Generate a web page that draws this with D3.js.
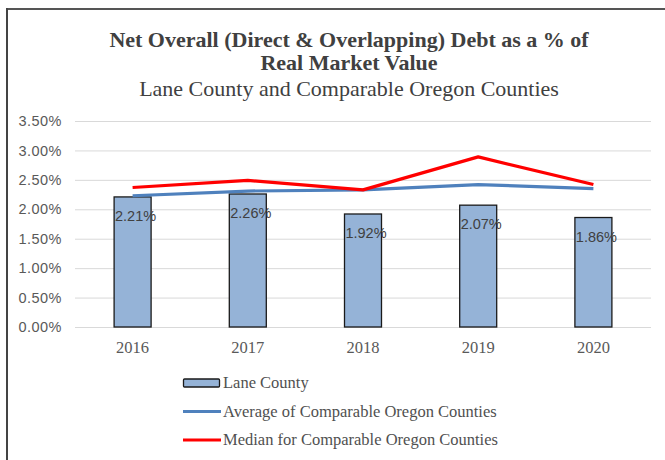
<!DOCTYPE html>
<html>
<head>
<meta charset="utf-8">
<script src="https://cdn.jsdelivr.net/npm/d3@7"></script>
<style>
  html, body { margin: 0; padding: 0; background: #fff; }
  svg { display: block; font-family: "Liberation Serif", "Times New Roman", serif; }
</style>
</head>
<body>
<svg id="chart" width="665" height="460"></svg>
<script>
// ── Data ─────────────────────────────────────────────────────────────────────
const years    = ["2016", "2017", "2018", "2019", "2020"];
const lane     = [2.21, 2.26, 1.92, 2.07, 1.86];
const average  = [2.23, 2.31, 2.33, 2.42, 2.35];
const median   = [2.37, 2.49, 2.33, 2.89, 2.42];
const yTicks   = [0, 0.5, 1, 1.5, 2, 2.5, 3, 3.5];

const legendItems = [
  { label: "Lane County", kind: "bar" },
  { label: "Average of Comparable Oregon Counties", kind: "line", color: "#4f81bd" },
  { label: "Median for Comparable Oregon Counties", kind: "line", color: "#ff0000" },
];

// ── Layout ───────────────────────────────────────────────────────────────────
const svg = d3.select("#chart");
const plot = { left: 75, right: 651, top: 121, bottom: 327 };
const SANS  = "'Liberation Sans', Arial, sans-serif";
const SERIF = "'Liberation Serif', 'Times New Roman', serif";

// frame: top rule + left rule
svg.append("line").attr("x1", 6).attr("x2", 665).attr("y1", 9).attr("y2", 9)
  .attr("stroke", "#555").attr("stroke-width", 2);
svg.append("line").attr("x1", 7).attr("x2", 7).attr("y1", 8).attr("y2", 460)
  .attr("stroke", "#444").attr("stroke-width", 2);

// titles
svg.append("text").attr("x", 349).attr("y", 47).attr("text-anchor", "middle")
  .attr("font-size", 22).attr("font-weight", "bold").attr("fill", "#404040")
  .text("Net Overall (Direct & Overlapping) Debt as a % of");
svg.append("text").attr("x", 349).attr("y", 70).attr("text-anchor", "middle")
  .attr("font-size", 22).attr("font-weight", "bold").attr("fill", "#404040")
  .text("Real Market Value");
svg.append("text").attr("x", 349).attr("y", 96).attr("text-anchor", "middle")
  .attr("font-size", 22).attr("fill", "#404040")
  .text("Lane County and Comparable Oregon Counties");

// scales
const x = d3.scaleBand().domain(years).range([plot.left, plot.right]);
const y = d3.scaleLinear().domain([0, 3.5]).range([plot.bottom, plot.top]);
const barW = 37;

// gridlines
svg.append("g").selectAll("line").data(yTicks).enter().append("line")
  .attr("x1", plot.left).attr("x2", plot.right)
  .attr("y1", d => y(d) + 0.5).attr("y2", d => y(d) + 0.5)
  .attr("stroke", "#d9d9d9").attr("stroke-width", 1);

// y axis labels
const yAxis = d3.axisLeft(y).tickValues(yTicks).tickSize(0).tickPadding(0)
  .tickFormat(d => d.toFixed(2) + "%");
const gy = svg.append("g").attr("transform", `translate(62,0)`).call(yAxis);
gy.select(".domain").remove();
gy.selectAll("text").style("font-family", SANS)
  .style("font-size", "14.5px").style("letter-spacing", "0.5px").attr("fill", "#595959");

// x axis labels
const xAxis = d3.axisBottom(x).tickSize(0).tickPadding(0);
const gx = svg.append("g").attr("transform", `translate(0,${plot.bottom + 14})`).call(xAxis);
gx.select(".domain").remove();
gx.selectAll("text").style("font-family", SERIF)
  .style("font-size", "16.5px").attr("fill", "#595959");

// bars
const cx = d => x(d) + x.bandwidth() / 2;
svg.append("g").selectAll("rect").data(years).enter().append("rect")
  .attr("x", d => cx(d) - barW / 2)
  .attr("y", (d, i) => y(lane[i]))
  .attr("width", barW)
  .attr("height", (d, i) => y(0) - y(lane[i]))
  .attr("fill", "#95b3d7").attr("stroke", "#1a1a1a").attr("stroke-width", 1.3);

// data labels
svg.append("g").selectAll("text").data(years).enter().append("text")
  .attr("x", d => cx(d) + 3)
  .attr("y", (d, i) => y(lane[i]) + 24)
  .attr("text-anchor", "middle")
  .style("font-family", SANS)
  .style("font-size", "14.5px").attr("fill", "#404040")
  .text((d, i) => lane[i].toFixed(2) + "%");

// lines
const line = d3.line().x((d, i) => cx(years[i])).y(d => y(d));
svg.append("path").datum(average).attr("d", line)
  .attr("fill", "none").attr("stroke", "#4f81bd").attr("stroke-width", 3.2)
  .attr("stroke-linejoin", "round");
svg.append("path").datum(median).attr("d", line)
  .attr("fill", "none").attr("stroke", "#ff0000").attr("stroke-width", 3.2)
  .attr("stroke-linejoin", "round");

// legend
const lg = svg.append("g").attr("transform", "translate(183,383)");
legendItems.forEach((item, i) => {
  const g = lg.append("g").attr("transform", `translate(0,${i * 28.5})`);
  if (item.kind === "bar") {
    g.append("rect").attr("x", 0.5).attr("y", -4).attr("width", 36).attr("height", 8)
      .attr("rx", 1).attr("fill", "#95b3d7").attr("stroke", "#1a1a1a").attr("stroke-width", 1.3);
  } else {
    g.append("line").attr("x1", 0).attr("x2", 38).attr("y1", 0).attr("y2", 0)
      .attr("stroke", item.color).attr("stroke-width", 3.2);
  }
  g.append("text").attr("x", 40).attr("y", 5)
    .attr("font-size", 16.5).attr("fill", "#505050").text(item.label);
});
</script>
</body>
</html>
